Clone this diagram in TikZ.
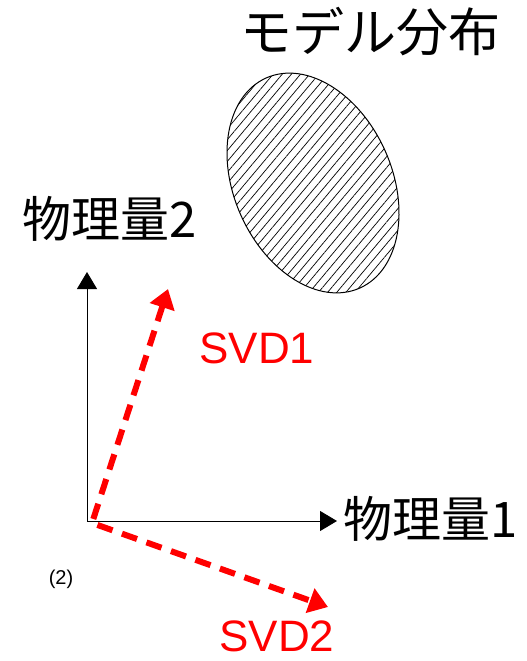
\documentclass[tikz,border=0pt]{standalone}
\usepackage{fontspec}
\setmainfont{Liberation Sans}
\newfontfamily\jpfont{Noto Sans CJK JP}
\usetikzlibrary{arrows.meta,patterns.meta}
\definecolor{svdred}{RGB}{255,0,0}
\tikzset{
  axis/.style={draw=black, line width=1pt, -{Triangle[length=17pt,width=20pt]}},
  svdarrow/.style={draw=svdred, line width=6pt, dash pattern=on 16pt off 10pt,
    {Triangle[length=19pt,width=25pt]}-{Triangle[length=19pt,width=25pt]}},
  jplabel/.style={font=\jpfont\fontsize{49}{49}\selectfont, inner sep=0pt},
  svdlabel/.style={font=\fontsize{44}{44}\selectfont, text=svdred, inner sep=0pt, anchor=base},
  model/.style={draw=black, line width=1pt, pattern={Lines[angle=50,distance=7pt,line width=0.7pt]}}
}
\begin{document}
\begin{tikzpicture}[x=1pt,y=-1pt]
\useasboundingbox (0,0) rectangle (527,661);
% model distribution ellipse
\draw[model] (313,183) ellipse[x radius=79, y radius=115, rotate=24];
% axes
\coordinate (o) at (87,521);
\coordinate (ytip) at (87,272);
\coordinate (xtip) at (337,521);
\draw[axis] (o) -- (ytip);
\draw[axis] (o) -- (xtip);
% SVD directions
\coordinate (so) at (92,523);
\coordinate (s1) at (168,289);
\coordinate (s2) at (328,607);
\draw[svdarrow] (s1) -- (so) -- (s2);
% labels
\node[jplabel, font=\jpfont\fontsize{52}{52}\selectfont] (title) at (370,32) {モデル分布};
\node[jplabel] (q2) at (110,219) {物理量2};
\node[jplabel] (q1) at (431,519) {物理量1};
\node[svdlabel] (l1) at (257,363) {SVD1};
\node[svdlabel] (l2) at (277,651) {SVD2};
\node[font=\fontsize{20}{20}\selectfont, inner sep=0pt] (num) at (61,579) {(2)};
\end{tikzpicture}
\end{document}
